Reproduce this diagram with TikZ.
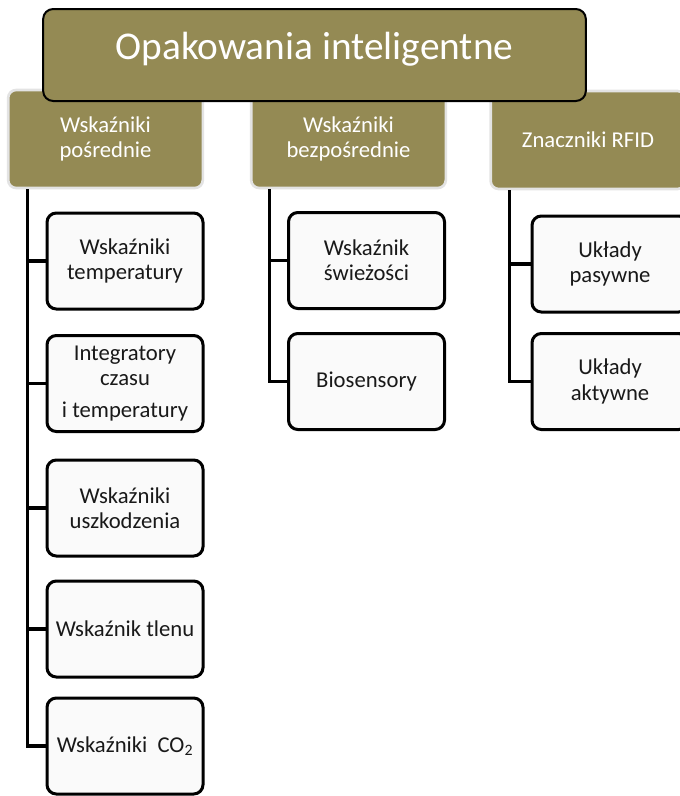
\documentclass[tikz,border=0pt]{standalone}
\usepackage{fontspec}
\setmainfont{Carlito}
\usepackage{xcolor}
\usepackage{tikz}
\definecolor{oliwka}{HTML}{948A54}
\tikzset{
    main/.style={draw=black, line width=1.5pt, rounded corners=7.5pt, fill=oliwka,
        minimum width=407pt, minimum height=69pt},
    group/.style={draw=gray!22, line width=2pt, rounded corners=6pt, fill=oliwka,
        text=white, align=center, font=\fontsize{17}{18.5}\selectfont,
        minimum width=146pt, minimum height=73.5pt},
    item/.style={draw=black, line width=2.25pt, rounded corners=7pt, fill=gray!4,
        text=black!90, align=center, font=\fontsize{17}{19}\selectfont,
        minimum width=117pt, minimum height=72pt, inner sep=2pt},
    conn/.style={line width=2.4pt}
}
\begin{document}
\begin{tikzpicture}[x=0.75pt, y=-0.75pt]
    \useasboundingbox (0,0) rectangle (679,796);

    \node[group] (posr) at (105.5,139) {Wskaźniki\\pośrednie};
    \node[group] (bezp) at (348.5,139) {Wskaźniki\\bezpośrednie};
    \node[group] (rfid) at (588,140) {Znaczniki RFID};

    \node[main] (top) at (314.5,55) {};
    \node[text=white, font=\fontsize{29.5}{34}\selectfont] (title) at ([yshift=4.5pt]top.center) {Opakowania inteligentne};

    \node[item] (temp) at (125,261) {Wskaźniki\\temperatury};
    \node[item] (ttc) at (125,383.5) {Integratory\\czasu\\[5pt]i temperatury};
    \node[item] (uszk) at (125,508) {Wskaźniki\\uszkodzenia};
    \node[item] (tlen) at (125,629) {Wskaźnik tlenu};
    \node[item] (co) at (125,746) {Wskaźniki\ \ CO\textsubscript{2}};

    \node[item] (swiez) at (366.5,260.5) {Wskaźnik\\świeżości};
    \node[item] (bios) at (366.5,381.5) {Biosensory};

    \node[item] (pas) at (610,264) {Układy\\pasywne};
    \node[item] (akt) at (610,381.5) {Układy\\aktywne};

    \draw[conn] ([xshift=15.75pt]posr.south west) |- (temp.west);
    \draw[conn] ([xshift=15.75pt]posr.south west) |- (ttc.west);
    \draw[conn] ([xshift=15.75pt]posr.south west) |- (uszk.west);
    \draw[conn] ([xshift=15.75pt]posr.south west) |- (tlen.west);
    \draw[conn] ([xshift=15.75pt]posr.south west) |- (co.west);

    \draw[conn] ([xshift=14.5pt]bezp.south west) |- (swiez.west);
    \draw[conn] ([xshift=14.5pt]bezp.south west) |- (bios.west);

    \draw[conn] ([xshift=15pt]rfid.south west) |- (pas.west);
    \draw[conn] ([xshift=15pt]rfid.south west) |- (akt.west);
\end{tikzpicture}
\end{document}
